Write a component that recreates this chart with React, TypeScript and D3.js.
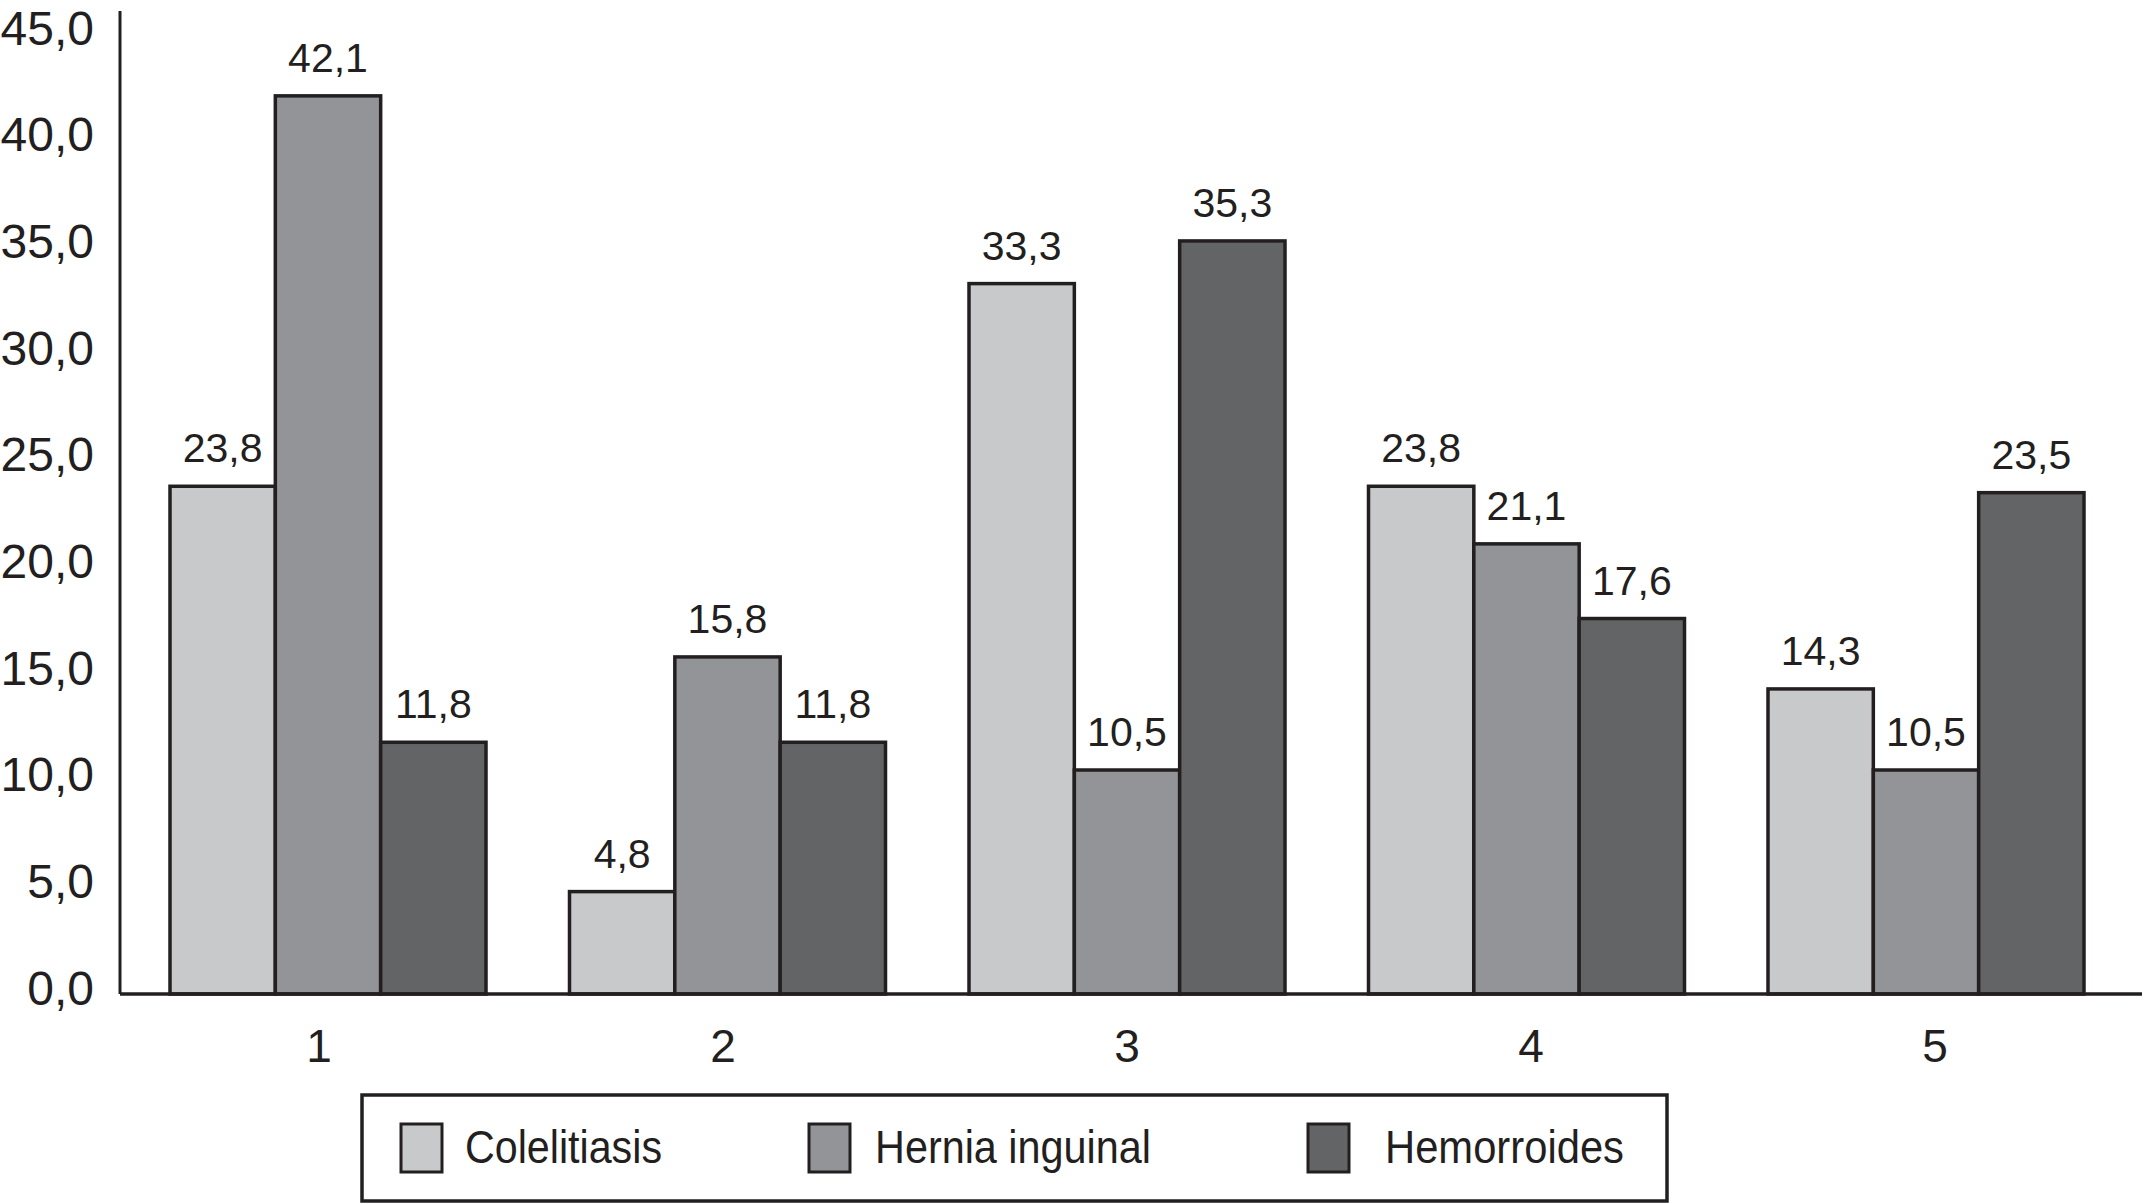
import { useEffect, useRef } from 'react';
import * as d3 from 'd3';

const categories = ['1', '2', '3', '4', '5'];
const seriesNames = ['Colelitiasis', 'Hernia inguinal', 'Hemorroides'];
const colelitiasis = [23.8, 4.8, 33.3, 23.8, 14.3];
const herniaInguinal = [42.1, 15.8, 10.5, 21.1, 10.5];
const hemorroides = [11.8, 11.8, 35.3, 17.6, 23.5];
const yTicks = [0, 5, 10, 15, 20, 25, 30, 35, 40, 45];
const seriesColors = ['#c8c9cb', '#939497', '#636466'];

const fmt = (v: number) => v.toFixed(1).replace('.', ',');

export default function App() {
  const svgRef = useRef<SVGSVGElement>(null);

  useEffect(() => {
    document.body.style.margin = '0';
    if (!svgRef.current) return;

    const width = 2144;
    const height = 1204;
    const axisX = 120;
    const baseline = 994;
    const ink = '#231f20';
    const font = '"Liberation Sans", Arial, sans-serif';

    const svg = d3.select(svgRef.current).attr('width', width).attr('height', height);
    svg.selectAll('*').remove();

    const series = [colelitiasis, herniaInguinal, hemorroides];

    const x0 = d3.scaleBand().domain(categories).range([170, 2084]).paddingInner(0.209).paddingOuter(0);
    const x1 = d3.scaleBand<number>().domain([0, 1, 2]).range([0, x0.bandwidth()]).padding(0);
    const xLabel = d3.scalePoint().domain(categories).range([319, 1935]);
    const y = d3.scaleLinear().domain([0, 45]).range([baseline, 34]);

    // y tick labels
    svg
      .append('g')
      .selectAll('text')
      .data(yTicks)
      .enter()
      .append('text')
      .attr('x', 94)
      .attr('y', (d) => y(d) - 6)
      .attr('dy', '0.35em')
      .attr('text-anchor', 'end')
      .style('font-family', font)
      .style('font-size', '48px')
      .style('fill', ink)
      .text((d) => fmt(d));

    // bars
    const groups = svg
      .append('g')
      .selectAll('g')
      .data(categories)
      .enter()
      .append('g')
      .attr('transform', (d) => `translate(${x0(d)},0)`);

    groups
      .selectAll('rect')
      .data((_, i) => series.map((s, k) => ({ k, v: s[i] })))
      .enter()
      .append('rect')
      .attr('x', (d) => x1(d.k) || 0)
      .attr('y', (d) => y(d.v))
      .attr('width', x1.bandwidth())
      .attr('height', (d) => baseline - y(d.v))
      .attr('fill', (d) => seriesColors[d.k])
      .attr('stroke', ink)
      .attr('stroke-width', 3.5);

    groups
      .selectAll('text')
      .data((_, i) => series.map((s, k) => ({ k, v: s[i] })))
      .enter()
      .append('text')
      .attr('x', (d) => (x1(d.k) || 0) + x1.bandwidth() / 2)
      .attr('y', (d) => y(d.v) - 24)
      .attr('text-anchor', 'middle')
      .style('font-family', font)
      .style('font-size', '41px')
      .style('fill', ink)
      .text((d) => fmt(d.v));

    // axes lines
    svg
      .append('line')
      .attr('x1', axisX)
      .attr('x2', axisX)
      .attr('y1', 11)
      .attr('y2', baseline)
      .attr('stroke', ink)
      .attr('stroke-width', 3);

    svg
      .append('line')
      .attr('x1', axisX)
      .attr('x2', 2142)
      .attr('y1', baseline)
      .attr('y2', baseline)
      .attr('stroke', ink)
      .attr('stroke-width', 3.5);

    // category labels
    svg
      .append('g')
      .selectAll('text')
      .data(categories)
      .enter()
      .append('text')
      .attr('x', (d) => xLabel(d) || 0)
      .attr('y', 1062)
      .attr('text-anchor', 'middle')
      .style('font-family', font)
      .style('font-size', '46px')
      .style('fill', ink)
      .text((d) => d);

    // legend
    svg
      .append('rect')
      .attr('x', 362)
      .attr('y', 1095)
      .attr('width', 1305)
      .attr('height', 106)
      .attr('fill', 'white')
      .attr('stroke', ink)
      .attr('stroke-width', 3.5);

    const legendSwatchX = [401, 809, 1308];
    const legendTextX = [465, 875, 1385];
    const legendTextW = [197, 276, 239];

    const items = svg
      .append('g')
      .selectAll('g')
      .data(seriesNames)
      .enter()
      .append('g');

    items
      .append('rect')
      .attr('x', (_, i) => legendSwatchX[i])
      .attr('y', 1124)
      .attr('width', 41)
      .attr('height', 48)
      .attr('fill', (_, i) => seriesColors[i])
      .attr('stroke', ink)
      .attr('stroke-width', 3);

    items
      .append('text')
      .attr('x', (_, i) => legendTextX[i])
      .attr('y', 1163)
      .attr('textLength', (_, i) => legendTextW[i])
      .attr('lengthAdjust', 'spacingAndGlyphs')
      .style('font-family', font)
      .style('font-size', '46px')
      .style('fill', ink)
      .text((d) => d);
  }, []);

  return <svg ref={svgRef} style={{ display: 'block' }} />;
}
